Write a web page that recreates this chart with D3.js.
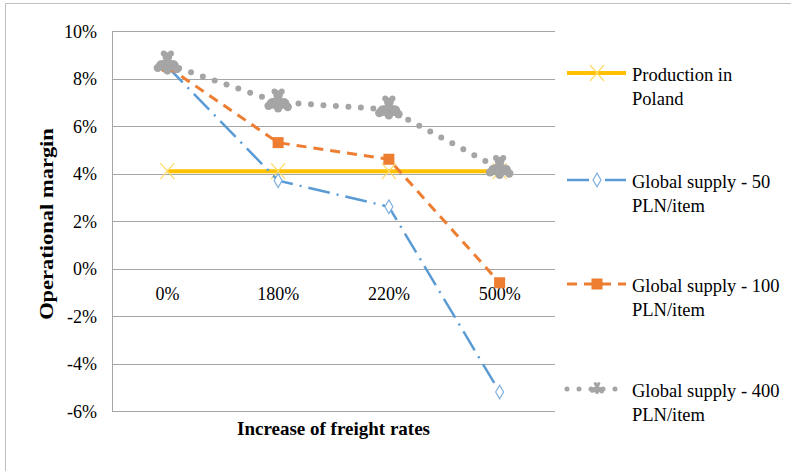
<!DOCTYPE html>
<html>
<head>
<meta charset="utf-8">
<script src="https://cdn.jsdelivr.net/npm/d3@7/dist/d3.min.js"></script>
<style>
  body { margin: 0; background: #fff; }
</style>
</head>
<body>
<svg id="chart" width="791" height="471"></svg>
<script>
var categories = ['0%', '180%', '220%', '500%'];
var productionPoland = [4.1, 4.1, 4.1, 4.1];
var global50 = [8.5, 3.7, 2.6, -5.2];
var global100 = [8.5, 5.3, 4.6, -0.6];
var global400 = [8.6, 7.0, 6.7, 4.2];
var yTicks = [-6, -4, -2, 0, 2, 4, 6, 8, 10];

var MARGIN = { left: 112, top: 31, right: 236, bottom: 60 };
var WIDTH = 791, HEIGHT = 471;
var FONT = '"Liberation Serif", "Times New Roman", serif';

var svg = d3.select('#chart');

// outer frame (only left/top edges fall inside the picture)
svg.append('rect')
    .attr('x', 5.5).attr('y', 3.5)
    .attr('width', 900).attr('height', 600)
    .attr('fill', 'none').attr('stroke', '#bfbfbf');

var x = d3.scaleBand().domain(categories).range([MARGIN.left, WIDTH - MARGIN.right]);
var y = d3.scaleLinear().domain([-6, 10]).range([HEIGHT - MARGIN.bottom, MARGIN.top]);

// grid
svg.append('g').selectAll('line').data(yTicks).enter().append('line')
    .attr('x1', MARGIN.left).attr('x2', WIDTH - MARGIN.right)
    .attr('y1', function(d) { return Math.round(y(d)) + 0.5; })
    .attr('y2', function(d) { return Math.round(y(d)) + 0.5; })
    .attr('stroke', '#a6a6a6').attr('stroke-width', 1);

// left axis line
svg.append('line')
    .attr('x1', MARGIN.left + 0.5).attr('x2', MARGIN.left + 0.5)
    .attr('y1', y(10)).attr('y2', y(-6))
    .attr('stroke', '#a6a6a6');

// y tick labels
svg.append('g').selectAll('text').data(yTicks).enter().append('text')
    .attr('x', 97).attr('y', function(d) { return y(d) + 6.5; })
    .attr('text-anchor', 'end')
    .style('font-family', FONT)
    .style('font-size', '18px')
    .text(function(d) { return d + '%'; });

// x category labels (sit just below 0% line)
svg.append('g').selectAll('text').data(categories).enter().append('text')
    .attr('x', function(d) { return x(d) + x.bandwidth() / 2; })
    .attr('y', y(0) + 31.5)
    .attr('text-anchor', 'middle')
    .style('font-family', FONT)
    .style('font-size', '18px')
    .text(function(d) { return d; });

// axis titles
svg.append('text')
    .attr('x', (MARGIN.left + WIDTH - MARGIN.right) / 2).attr('y', 435)
    .attr('text-anchor', 'middle')
    .style('font-family', FONT)
    .style('font-size', '19px').style('font-weight', 'bold')
    .text('Increase of freight rates');

svg.append('text')
    .attr('transform', 'translate(53,224) rotate(-90) scale(1,0.82)')
    .attr('text-anchor', 'middle')
    .style('font-family', FONT)
    .style('font-size', '22.5px').style('font-weight', 'bold')
    .text('Operational margin');

var series = [
    { name: ['Production in', 'Poland'], values: productionPoland, color: '#ffc000', width: 4, dash: null, cap: 'butt', marker: 'x' },
    { name: ['Global supply - 50', 'PLN/item'], values: global50, color: '#5b9bd5', width: 2.5, dash: '22 7 2 7', cap: 'butt', marker: 'diamond' },
    { name: ['Global supply - 100', 'PLN/item'], values: global100, color: '#ed7d31', width: 3, dash: '10 7', cap: 'butt', marker: 'square' },
    { name: ['Global supply - 400', 'PLN/item'], values: global400, color: '#a5a5a5', width: 6, dash: '0 12.5', cap: 'round', marker: 'blob' }
];

function drawMarker(g, type, color, cx, cy, scale) {
    scale = scale || 1;
    if (type === 'x') {
        g.append('path')
            .attr('d', 'M' + (cx - 7) + ' ' + (cy - 8) + ' L' + (cx + 7) + ' ' + (cy + 8) +
                ' M' + (cx + 7) + ' ' + (cy - 8) + ' L' + (cx - 7) + ' ' + (cy + 8))
            .attr('stroke', '#ffd966').attr('stroke-width', 1.2).attr('fill', 'none');
    } else if (type === 'diamond') {
        g.append('path')
            .attr('d', d3.symbol().type(d3.symbolDiamond).size(55)())
            .attr('transform', 'translate(' + cx + ',' + cy + ')')
            .attr('fill', '#ffffff').attr('stroke', '#7fb1df').attr('stroke-width', 1.2);
    } else if (type === 'square') {
        g.append('rect')
            .attr('x', cx - 5.5).attr('y', cy - 5.5)
            .attr('width', 11).attr('height', 11)
            .attr('fill', color);
    } else if (type === 'blob') {
        var bits = [[0, -6, 4], [-3, -9, 2.5], [3, -9, 2.5], [-5, 1, 4.5], [5, 1, 4.5], [0, 0, 5],
            [-8, 3, 3.5], [8, 4, 3.5], [0, 5, 3.5]];
        bits.forEach(function(b) {
            g.append('circle')
                .attr('cx', cx + b[0] * scale).attr('cy', cy + b[1] * scale)
                .attr('r', b[2] * scale).attr('fill', color);
        });
    }
}

var line = d3.line()
    .x(function(d, i) { return x(categories[i]) + x.bandwidth() / 2; })
    .y(function(d) { return y(d); });

series.forEach(function(s) {
    var g = svg.append('g');
    g.append('path')
        .datum(s.values)
        .attr('d', line)
        .attr('fill', 'none')
        .attr('stroke', s.color)
        .attr('stroke-width', s.width)
        .attr('stroke-dasharray', s.dash)
        .attr('stroke-linecap', s.cap);
    s.values.forEach(function(v, i) {
        drawMarker(g, s.marker, s.color, x(categories[i]) + x.bandwidth() / 2, y(v), 1.2);
    });
});

// legend
var legendY = [73, 180, 284, 389];
series.forEach(function(s, i) {
    var g = svg.append('g');
    var ly = legendY[i];
    g.append('line')
        .attr('x1', 567).attr('x2', 626)
        .attr('y1', ly).attr('y2', ly)
        .attr('stroke', s.color)
        .attr('stroke-width', s.width === 6 ? 5 : s.width)
        .attr('stroke-dasharray', s.dash === '0 12.5' ? '0 12' : s.dash)
        .attr('stroke-linecap', s.cap);
    drawMarker(g, s.marker, s.color, 597, ly, 0.6);
    s.name.forEach(function(t, j) {
        g.append('text')
            .attr('x', 632).attr('y', ly + 8 + j * 24)
            .style('font-family', FONT)
            .style('font-size', '18.5px')
            .text(t);
    });
});
</script>
</body>
</html>
